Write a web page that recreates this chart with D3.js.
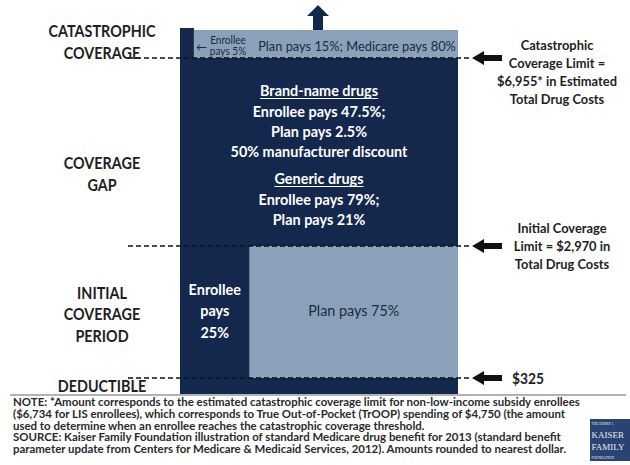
<!DOCTYPE html>
<html><head><meta charset="utf-8">
<script src="https://cdn.jsdelivr.net/npm/d3@7"></script>
<style>body{margin:0;background:#fff}svg{display:block}</style>
</head><body><svg id="c" width="630" height="465"></svg>
<script>
// ---------- data ----------
const stages = ["deductible", "initial", "gap", "catastrophic"];
const stageBounds = [0, 325, 2970, 6955, 7550];          // total drug costs ($); last value = open-ended top of drawing
const enrolleeShare = [100, 25, 100, 5];                  // % of cost shown as enrollee (dark) column
const stageLabels = [["DEDUCTIBLE"], ["INITIAL", "COVERAGE", "PERIOD"], ["COVERAGE", "GAP"], ["CATASTROPHIC", "COVERAGE"]];
const limits = [325, 2970, 6955];
const limitLabels = [["$325"], ["Initial Coverage", "Limit = $2,970 in", "Total Drug Costs"],
                     ["Catastrophic", "Coverage Limit =", "$6,955* in Estimated", "Total Drug Costs"]];
const gapText = [["Brand-name drugs", true], ["Enrollee pays 47.5%;", false], ["Plan pays 2.5%", false],
                 ["50% manufacturer discount", false], ["Generic drugs", true], ["Enrollee pays 79%;", false], ["Plan pays 21%", false]];
const initialEnrolleeText = ["Enrollee", "pays", "25%"];
const initialPlanText = "Plan pays 75%";
const catEnrolleeText = ["Enrollee", "pays 5%"];
const catPlanText = "Plan pays 15%; Medicare pays 80%";
const notes = [
  "NOTE: *Amount corresponds to the estimated catastrophic coverage limit for non-low-income subsidy enrollees",
  "($6,734 for LIS enrollees), which corresponds to True Out-of-Pocket (TrOOP) spending of $4,750 (the amount",
  "used to determine when an enrollee reaches the catastrophic coverage threshold.",
  "SOURCE:  Kaiser Family Foundation illustration of standard Medicare drug benefit for 2013 (standard benefit",
  "parameter update from Centers for Medicare & Medicaid Services, 2012).  Amounts rounded to nearest dollar."
];
const logoText = ["THE HENRY J.", "KAISER", "FAMILY", "FOUNDATION"];

// ---------- styles ----------
const NAVY = "#14284e", LIGHT = "#8ba1ba", INK = "#1e1e1e", DARKTXT = "#1c2a44";
const FONT = "Lato,'Liberation Sans',sans-serif";

const svg = d3.select("#c").style("font-family", FONT);

function natural(str, size, weight) {
  const t = svg.append("text").attr("font-size", size).attr("font-weight", weight).text(str);
  const w = t.node().getComputedTextLength(); t.remove(); return w;
}
function ctext(parent, x, y, str, size, weight, fill, anchor, sx) {
  return parent.append("text").attr("transform", `translate(${x},${y}) scale(${sx},1)`)
    .attr("text-anchor", anchor).attr("font-size", size).attr("font-weight", weight)
    .attr("fill", fill).text(str);
}

// scales
const y = d3.scaleLinear().domain([0, 325, 2970, 6955, 7550]).range([394, 378, 246, 58, 30]);
const x = d3.scaleLinear().domain([0, 100]).range([180, 458]);

// ---------- bar ----------
const segs = stages.map((s, i) => ({stage: s, lo: stageBounds[i], hi: stageBounds[i + 1], share: enrolleeShare[i]}));
svg.selectAll("rect.plan").data(segs.filter(d => d.share < 100)).join("rect")
  .attr("x", d => x(d.share)).attr("width", d => x(100) - x(d.share))
  .attr("y", d => y(d.hi)).attr("height", d => y(d.lo) - y(d.hi))
  .attr("fill", LIGHT);
svg.selectAll("rect.enr").data(segs).join("rect")
  .attr("x", x(0)).attr("width", d => x(d.share) - x(0))
  .attr("y", d => y(d.hi) - (d.stage === "catastrophic" ? 2 : 0))
  .attr("height", d => y(d.lo) - y(d.hi) + (d.stage === "catastrophic" ? 2 : 0))
  .attr("fill", NAVY);

// up arrow above catastrophic
const topY = y(stageBounds[4]);
const ax = x(50) - 1;
svg.append("path")
  .attr("d", `M${ax - 5},${topY} L${ax - 5},${topY - 14} L${ax - 11},${topY - 14} L${ax},${topY - 25} L${ax + 11},${topY - 14} L${ax + 5},${topY - 14} L${ax + 5},${topY} Z`)
  .attr("fill", NAVY);

// dashed threshold lines
svg.selectAll("line.lim").data(limits).join("line")
  .attr("x1", 128).attr("x2", 472).attr("y1", d => y(d)).attr("y2", d => y(d))
  .attr("stroke", "#111").attr("stroke-width", 1.4).attr("stroke-dasharray", "5,3");

// left-pointing block arrows
svg.selectAll("path.arr").data(limits).join("path")
  .attr("d", d => { const yy = y(d); return `M472,${yy} L484,${yy - 7} L484,${yy - 3} L502,${yy - 3} L502,${yy + 3} L484,${yy + 3} L484,${yy + 7} Z`; })
  .attr("fill", "#111");

// ---------- stage labels (left) ----------
const LS = 17.5;
const sLeft = 107 / natural("CATASTROPHIC", LS, "bold");
const labelShift = [0, 2, 22, -2];
stageLabels.forEach((lines, i) => {
  const cy = (y(stageBounds[i]) + y(stageBounds[i + 1])) / 2 + labelShift[i];
  lines.forEach((t, j) => {
    ctext(svg, 102, cy + (j - (lines.length - 1) / 2) * 21.5 + 6, t, LS, "bold", INK, "middle", sLeft);
  });
});

// ---------- limit labels (right) ----------
const RS = 14;
const sRight = 120 / natural("$6,955* in Estimated", RS, "bold");
ctext(svg, 512, y(limits[0]) + 5.5, limitLabels[0][0], 15, "bold", INK, "start", sRight);
limitLabels[1].forEach((t, j) => {
  ctext(svg, 562, y(limits[1]) + (j - 1) * 18 + 5, t, RS, "bold", INK, "middle", sRight);
});
limitLabels[2].forEach((t, j) => {
  ctext(svg, 557, y(limits[2]) - 13 + j * 18 + 5, t, RS, "bold", INK, "middle", sRight);
});

// ---------- text inside bar ----------
const GS = 15;
const sGap = 177 / natural("50% manufacturer discount", GS, "bold");
const gapYs = [91, 112, 132, 152, 179, 200, 220];
gapText.forEach(([t, ul], j) => {
  ctext(svg, x(50), gapYs[j] + 5, t, GS, "bold", "#fff", "middle", sGap);
  if (ul) {
    const w = natural(t, GS, "bold") * sGap;
    svg.append("line").attr("x1", x(50) - w / 2).attr("x2", x(50) + w / 2)
      .attr("y1", gapYs[j] + 7.5).attr("y2", gapYs[j] + 7.5).attr("stroke", "#fff").attr("stroke-width", 1.2);
  }
});

initialEnrolleeText.forEach((t, j) => {
  ctext(svg, (x(0) + x(25)) / 2, 289 + j * 21.5 + 5.5, t, GS, "bold", "#fff", "middle", sGap);
});
const sPlan = 91 / natural(initialPlanText, 15, "normal");
ctext(svg, (x(25) + x(100)) / 2, 311 + 5, initialPlanText, 15, "normal", DARKTXT, "middle", sPlan);

// catastrophic band texts
svg.append("text").attr("x", 196).attr("y", 51).attr("font-size", 11).attr("fill", DARKTXT).text("\u2190");
catEnrolleeText.forEach((t, j) => {
  ctext(svg, 228, 43.5 + j * 11.5, t, 10.5, "normal", DARKTXT, "middle", sPlan);
});
const sCat = 198 / natural(catPlanText, 13, "normal");
ctext(svg, 357, 51, catPlanText, 13, "normal", DARKTXT, "middle", sCat);

// ---------- separator + notes ----------
svg.append("line").attr("x1", 10).attr("x2", 626).attr("y1", 395).attr("y2", 395)
  .attr("stroke", "#9a9a9a").attr("stroke-width", 1.5);
const NS = 11;
const sNote = 567 / natural(notes[0], NS, "bold");
notes.forEach((t, j) => {
  ctext(svg, 13, 406 + j * 11.8, t, NS, "bold", "#2a2a2a", "start", sNote);
});

// ---------- logo ----------
const lg = svg.append("g").attr("transform", "translate(590,419)");
lg.append("rect").attr("width", 42).attr("height", 42).attr("fill", "#2b4372");
const lgy = [6, 19, 31, 40], lgs = [3.5, 9, 9, 3.5];
logoText.forEach((t, j) => {
  lg.append("text").attr("x", 1.5).attr("y", lgy[j]).attr("font-family", "'Liberation Serif',serif")
    .attr("font-size", lgs[j]).attr("fill", "#e8ecf4").text(t);
});
</script></body></html>
